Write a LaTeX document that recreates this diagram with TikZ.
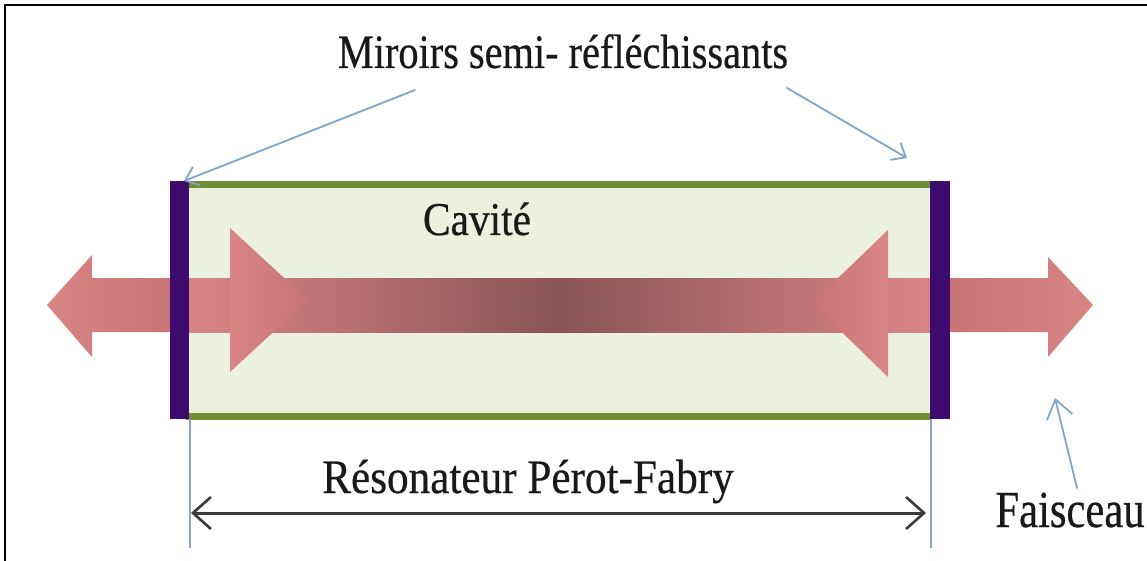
\documentclass[tikz,border=0pt]{standalone}
\usepackage{fontspec}
\setmainfont{Liberation Serif}
\newfontfamily\lblfont{Liberation Serif}[FakeBold=0.5]
\usetikzlibrary{arrows.meta}

\definecolor{mirrorc}{HTML}{3D0A6E}
\definecolor{cavfill}{HTML}{EBF1DE}
\definecolor{cavedge}{HTML}{718D36}
\definecolor{beamlight}{HTML}{DA8585}
\definecolor{beammid}{HTML}{C97474}
\definecolor{beamdark}{HTML}{8A5454}
\definecolor{pointerc}{HTML}{7EA6CC}
\definecolor{dimc}{HTML}{3A3A3A}
\definecolor{guidec}{HTML}{8FA5BD}

\begin{document}
\begin{tikzpicture}[x=1pt,y=-1pt,
  lbl/.style={font=\lblfont\fontsize{48}{52}\selectfont, inner sep=0pt, anchor=base, text=black!90},
  pointer/.style={draw=pointerc, line width=1.8pt, line cap=round,
    -{Straight Barb[length=12pt,width=20pt,line width=1.8pt]}},
  bigpointer/.style={pointer, -{Straight Barb[length=18pt,width=26pt,line width=1.8pt]}},
  dimarrow/.style={draw=dimc, line width=3pt,
    {Straight Barb[length=18pt,width=32pt,line width=2.6pt]}-{Straight Barb[length=18pt,width=32pt,line width=2.6pt]}},
  guide/.style={draw=guidec, line width=1.2pt},
  mirrorbar/.style={fill=mirrorc},
  edge/.style={draw=cavedge, line width=7pt}]

% page and frame
\useasboundingbox (0,0) rectangle (1147,561);
\fill[white] (0,0) rectangle (1147,561);
\draw[line width=2.5pt] (5,561) -- (5,5) -- (1147,5);

% cavity between the two mirrors
\fill[cavfill] (188,184) rectangle (930,416);

% beam inside the cavity
\shade[left color=beamlight, right color=beamlight, middle color=beamdark]
  (186,278) rectangle (932,332);
% outgoing beams
\shade[left color=beamlight, right color=beammid]
  (170,278) -- (92,278) -- (92,255) -- (47,305) -- (92,357) -- (92,332) -- (170,332) -- cycle;
\shade[left color=beammid, right color=beamlight]
  (950,278) -- (1048,278) -- (1048,257) -- (1093,305) -- (1048,357) -- (1048,332) -- (950,332) -- cycle;
% arrow heads travelling inside the cavity
\shade[left color=beamlight, right color=beammid]
  (230,228) -- (308,300) -- (230,372) -- cycle;
\shade[left color=beammid, right color=beamlight]
  (888,230) -- (812,303) -- (888,377) -- cycle;

% cavity walls
\draw[edge] (186,185) -- (932,185);
\draw[edge] (186,416) -- (932,416);

% mirrors
\fill[mirrorbar] (170,181) rectangle (189,419);
\fill[mirrorbar] (930,181) rectangle (950,419);

% named points
\coordinate (mirL) at (184,181);
\coordinate (mirR) at (907,158);
\coordinate (pA) at (415,90);
\coordinate (pB) at (787,88);
\coordinate (gL0) at (190,419);
\coordinate (gL1) at (190,548);
\coordinate (gR0) at (931,419);
\coordinate (gR1) at (931,548);
\coordinate (dL) at (191,513);
\coordinate (dR) at (926,513);
\coordinate (beamOut) at (1055,398);
\coordinate (fB) at (1077,488);

% labels
\node[lbl, xscale=0.84] (title) at (563,68) {Miroirs semi- réfléchissants};
\node[lbl, xscale=0.88, font=\lblfont\fontsize{47}{52}\selectfont] (cavite) at (477,235) {Cavité};
\node[lbl, xscale=0.9] (reso) at (528,493) {Résonateur Pérot-Fabry};
\node[lbl, xscale=0.82, font=\lblfont\fontsize{52}{56}\selectfont] (faisceau) at (1070,527) {Faisceau};

% pointers
\draw[pointer] (pA) -- (mirL);
\draw[pointer] (pB) -- (mirR);
\draw[bigpointer] (fB) -- (beamOut);

% length of the resonator
\draw[guide] (gL0) -- (gL1);
\draw[guide] (gR0) -- (gR1);
\draw[dimarrow] (dL) -- (dR);
\end{tikzpicture}
\end{document}
